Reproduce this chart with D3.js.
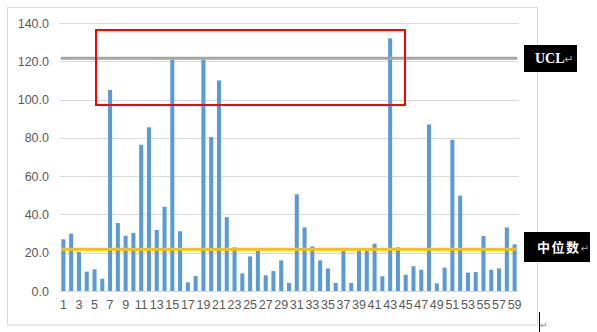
<!DOCTYPE html>
<html><head><meta charset="utf-8">
<script src="https://cdn.jsdelivr.net/npm/d3@7"></script>
<style>body{margin:0;background:#fff}svg{display:block}</style>
</head><body>
<svg id="c" width="597" height="332"></svg>
<script>
const categories = d3.range(1, 60);
const values = [27,30,20.4,10.1,11.3,6.4,105,35.5,28.9,30.3,76.4,85.5,31.9,44,121,31.2,4.5,7.8,121,80.4,
  110,38.6,22.8,9.2,18.1,21.1,8.2,10.4,16,4.2,50.5,33.2,23.3,16,11.8,4.2,21.1,4.2,21.1,21.1,
  24.7,7.7,132,22.8,8.5,12.9,11.1,87,4,12.2,79,49.8,9.6,9.9,28.7,11.1,11.8,33.2,24.4];
const yTicks = [0,20,40,60,80,100,120,140];
const ucl = 121.6;
const median = 21.8;
const labels = ["UCL", "中位数"];

const svg = d3.select("#c");
// outer frame
svg.append("rect").attr("x",7.5).attr("y",7.5).attr("width",530).attr("height",317.5)
  .attr("fill","none").attr("stroke","#d9d9d9").attr("stroke-width",1);

const x = d3.scaleBand().domain(categories).range([59.5,518.5]).paddingInner(0.48).paddingOuter(0.24);
const y = d3.scaleLinear().domain([0,140]).range([291,23]);

// gridlines
svg.append("g").selectAll("line").data(yTicks).join("line")
  .attr("x1",59.5).attr("x2",518.5)
  .attr("y1",d=>Math.round(y(d))+0.5).attr("y2",d=>Math.round(y(d))+0.5)
  .attr("stroke","#d9d9d9").attr("stroke-width",1);

// y axis labels
const yAxis = d3.axisLeft(y).tickValues(yTicks).tickFormat(d3.format(".1f")).tickSize(0).tickPadding(0);
const gy = svg.append("g").attr("transform","translate(49,0)").call(yAxis);
gy.select(".domain").remove();
gy.selectAll("text").attr("fill","#595959").style("font-family","Liberation Sans, Arial, sans-serif").style("font-size","12.5px");

// bars
svg.append("g").selectAll("rect").data(values).join("rect")
  .attr("x",(d,i)=>x(categories[i])).attr("width",x.bandwidth())
  .attr("y",d=>y(d)).attr("height",d=>y(0)-y(d))
  .attr("fill","#5b9bd5");

// x axis labels (odd only)
const xAxis = d3.axisBottom(x).tickValues(categories.filter(c=>c%2===1)).tickSize(0).tickPadding(0);
const gx = svg.append("g").attr("transform","translate(0,300)").call(xAxis);
gx.select(".domain").remove();
gx.selectAll("text").attr("fill","#595959").style("font-family","Liberation Sans, Arial, sans-serif").style("font-size","12.5px");

// UCL line
svg.append("line").attr("x1",62).attr("x2",516).attr("y1",y(ucl)).attr("y2",y(ucl))
  .attr("stroke","#a5a5a5").attr("stroke-width",3).attr("stroke-linecap","round");
// median line
svg.append("line").attr("x1",62).attr("x2",516).attr("y1",y(median)).attr("y2",y(median))
  .attr("stroke","#ffc000").attr("stroke-width",3.2);

// red rectangle
svg.append("rect").attr("x",96).attr("y",30).attr("width",309).attr("height",75)
  .attr("fill","none").attr("stroke","#ff0000").attr("stroke-width",2);

// label boxes
function labelBox(bx, by, w, h, text, font, fs, tx, ls) {
  svg.append("rect").attr("x",bx).attr("y",by).attr("width",w).attr("height",h).attr("fill","#000");
  const t = svg.append("text").attr("x",tx).attr("y",by+h/2).attr("dy","0.35em")
    .attr("fill","#fff").style("font-family",font).style("font-size",fs+"px").style("font-weight","bold");
  t.append("tspan").style("letter-spacing",ls+"px").text(text);
  t.append("tspan").attr("fill","#aaa").style("font-weight","normal").style("font-size",(fs-3)+"px").style("font-family","DejaVu Sans").text("↵");
}
labelBox(524, 45, 53, 27, labels[0], "Liberation Serif, Times New Roman, serif", 14, 535, 0);
labelBox(524, 232, 66, 30, labels[1], "Noto Sans CJK SC, sans-serif", 13, 537, 1.5);

// cursor marks
svg.append("line").attr("x1",539.5).attr("x2",539.5).attr("y1",312).attr("y2",332).attr("stroke","#000").attr("stroke-width",1);
svg.append("text").attr("x",540).attr("y",328).attr("fill","#888").style("font-size","9px").style("font-family","DejaVu Sans").text("↵");
</script>
</body></html>
